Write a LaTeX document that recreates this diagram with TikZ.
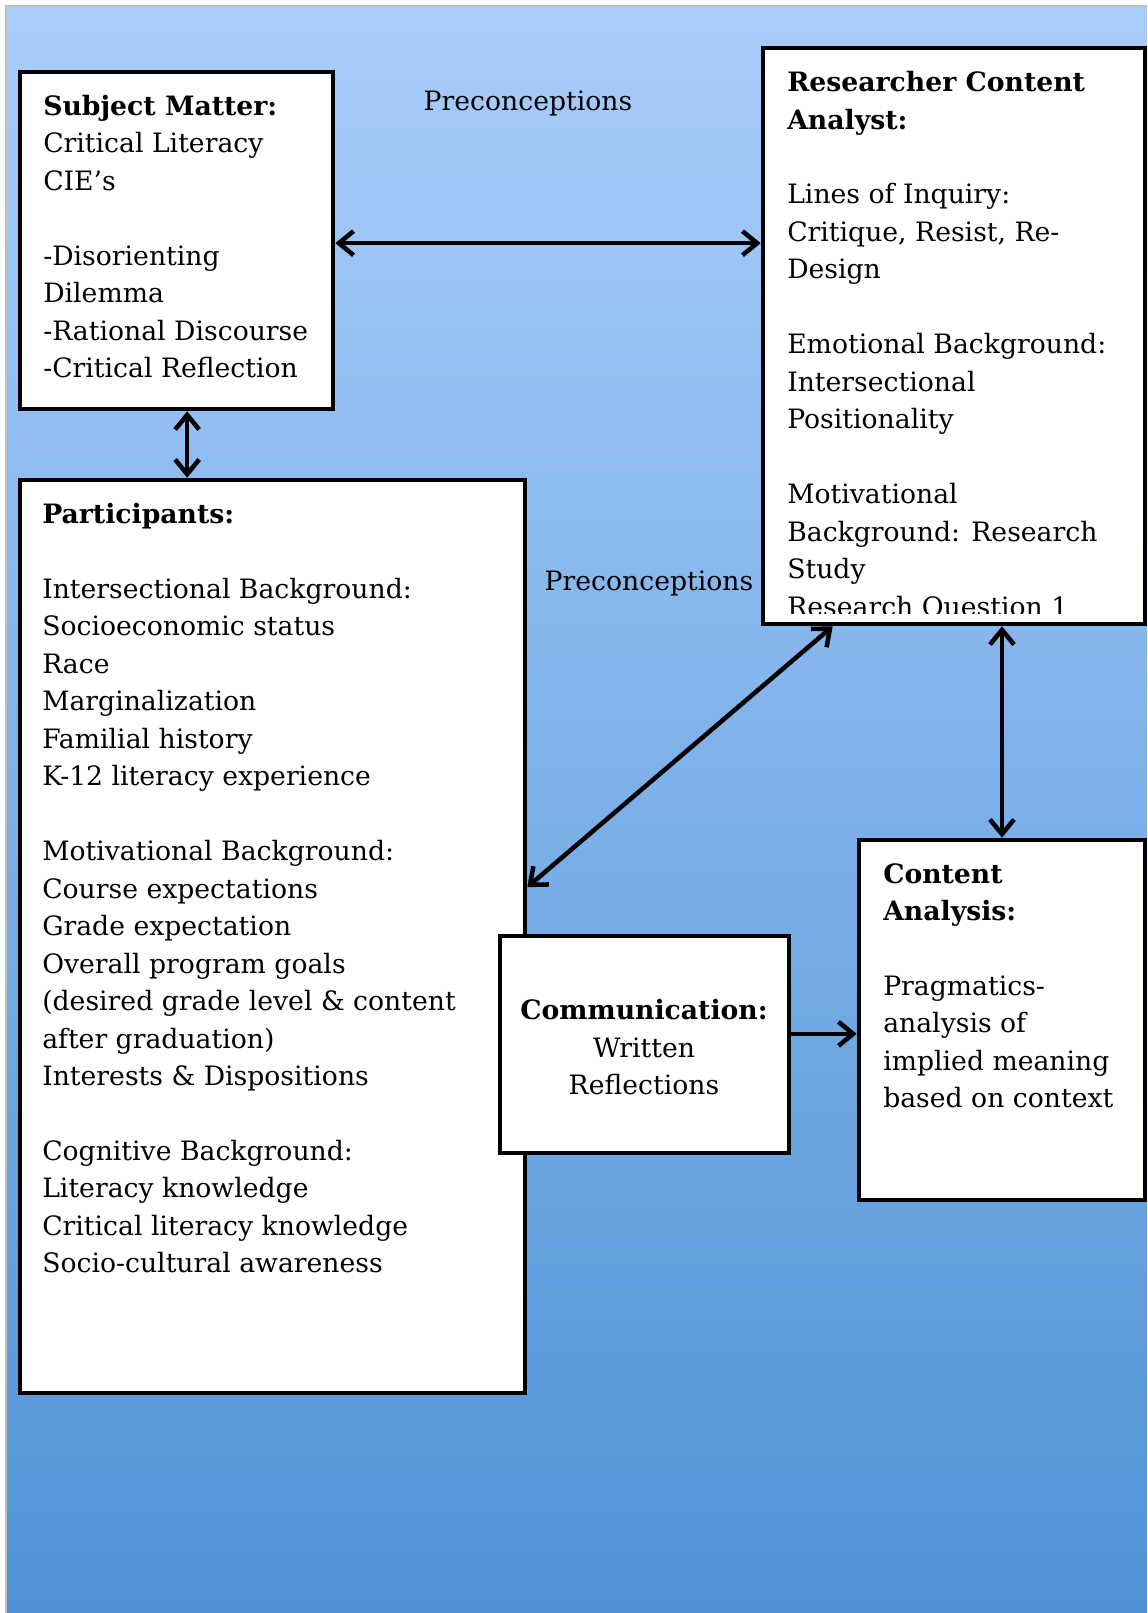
\documentclass[tikz,border=0pt]{standalone}
\usepackage{fontspec}
\setmainfont{DejaVu Serif}
\usetikzlibrary{arrows.meta, fit}
\definecolor{bgtop}{RGB}{170,205,251}
\definecolor{bgbot}{RGB}{79,147,214}

\begin{document}
\begin{tikzpicture}[x=0.75pt, y=-0.75pt, font=\fontsize{20}{28.1}\selectfont,
	box/.style = {draw, line width=3.4pt, fill=white, inner sep=0pt},
	txt/.style = {anchor=north west, align=left, inner sep=0pt},
	barb/.tip = {Straight Barb[length=11pt, width=18pt]},
	link/.style = {line width=3.4pt, {barb}-{barb}}]
	\useasboundingbox (0,0) rectangle (1147,1613);
	\shade[top color=bgtop, bottom color=bgbot] (6,6) rectangle (1147,1613);
	\draw[gray!50, line width=1pt] (6,1613) -- (6,6) -- (1147,6);
	\node[box, fit={(20,72) (333,409)}] (subj) {};
	\node[box, fit={(763,48) (1145,624)}] (res) {};
	\node[box, fit={(20,480) (525,1393)}] (part) {};
	\node[box, fit={(500,936) (789,1153)}] (comm) {};
	\node[box, fit={(859,840) (1145,1200)}] (cont) {};
	\node[txt] (subjtxt) at (43,95) {\textbf{Subject Matter:}\\Critical Literacy\\CIE’s\\[28.1pt]-Disorienting\\Dilemma\\-Rational Discourse\\-Critical Reflection};
	\begin{scope}
		\clip (765,50) rectangle (1141,613);
		\node[txt] (restxt) at (787,71) {\textbf{Researcher Content}\\\textbf{Analyst:}\\[28.1pt]Lines of Inquiry:\\Critique, Resist, Re-\\Design\\[28.1pt]Emotional Background:\\Intersectional\\Positionality\\[28.1pt]Motivational\\Background: Research\\Study\\Research Question 1};
	\end{scope}
	\node[txt] (parttxt) at (42,503) {\textbf{Participants:}\\[28.1pt]Intersectional Background:\\Socioeconomic status\\Race\\Marginalization\\Familial history\\K-12 literacy experience\\[28.1pt]Motivational Background:\\Course expectations\\Grade expectation\\Overall program goals\\(desired grade level \& content\\after graduation)\\Interests \& Dispositions\\[28.1pt]Cognitive Background:\\Literacy knowledge\\Critical literacy knowledge\\Socio-cultural awareness};
	\node[anchor=north, align=center, inner sep=0pt] (commtxt) at (644,999) {\textbf{Communication:}\\Written\\Reflections};
	\node[txt] (conttxt) at (883,863) {\textbf{Content}\\\textbf{Analysis:}\\[28.1pt]Pragmatics-\\analysis of\\implied meaning\\based on context};
	\node (pre1) at (528,103) {Preconceptions};
	\node (pre2) at (649,583) {Preconceptions};
	\draw[link] ([yshift=-2pt]subj.east) -- ([yshift=-2pt]subj.east -| res.west);
	\draw[link] ([xshift=8pt]subj.south) -- ([xshift=8pt]subj.south |- part.north);
	\draw[link] ([yshift=37pt]part.east) -- ([xshift=-91pt]res.south);
	\draw[link] (res.south -| cont.north) -- (cont.north);
	\draw[line width=3.4pt, -{barb}] ([yshift=8pt]comm.east) -- ([yshift=8pt]comm.east -| cont.west);
\end{tikzpicture}
\end{document}
